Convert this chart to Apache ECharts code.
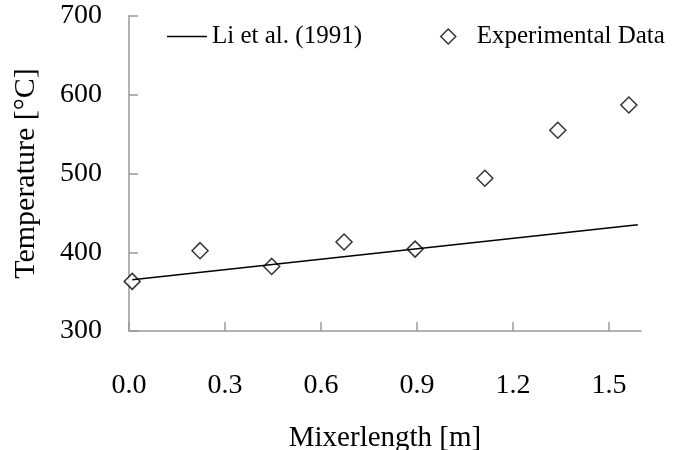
<!DOCTYPE html>
<html><head><meta charset="utf-8">
<script src="https://cdn.jsdelivr.net/npm/echarts@6/dist/echarts.min.js"></script>
<style>html,body{margin:0;padding:0;background:#fff}#c{width:675px;height:450px}</style>
</head><body><div id="c"></div>
<script>
const xTicks = [0, 0.3, 0.6, 0.9, 1.2, 1.5];
const expX = [0.01, 0.222, 0.446, 0.672, 0.894, 1.112, 1.34, 1.562];
const expY = [363, 402, 382, 413, 404, 494, 555, 587];
const liX = [0.01, 1.59];
const liY = [365, 435];

const font = 'Liberation Serif';
const chart = echarts.init(document.getElementById('c'));
chart.setOption({
  animation: false,
  backgroundColor: '#fff',
  textStyle: {fontFamily: font},
  grid: {left: 129, right: 34, top: 16, bottom: 119, containLabel: false, outerBoundsMode: 'none'},
  legend: [
    {
      top: 19, left: 162, itemWidth: 40, itemHeight: 1.5, icon: 'rect',
      textStyle: {fontFamily: font, fontSize: 25, color: '#000'},
      itemStyle: {color: '#000', borderWidth: 0},
      data: ['Li et al. (1991)']
    },
    {
      top: 19, left: 435, itemWidth: 15, itemHeight: 15, icon: 'diamond',
      textStyle: {fontFamily: font, fontSize: 25, color: '#000', padding: [0, 0, 0, 16]},
      itemStyle: {color: '#fff', borderColor: '#000', borderWidth: 1.5},
      data: ['Experimental Data']
    }
  ],
  xAxis: {
    type: 'value', min: 0, max: 1.6,
    name: 'Mixerlength [m]', nameLocation: 'middle', nameGap: 93,
    nameTextStyle: {fontFamily: font, fontSize: 29, color: '#000'},
    axisLine: {lineStyle: {color: '#999', width: 1.5}},
    axisTick: {inside: true, length: 9, lineStyle: {color: '#999', width: 1.5}, customValues: xTicks},
    axisLabel: {customValues: xTicks, margin: 41, fontSize: 28, color: '#000', fontFamily: font,
      formatter: v => v.toFixed(1)},
    splitLine: {show: false}
  },
  yAxis: {
    type: 'value', min: 300, max: 700, interval: 100,
    name: 'Temperature [°C]', nameLocation: 'middle', nameGap: 88,
    nameTextStyle: {fontFamily: font, fontSize: 30, color: '#000'},
    axisLine: {show: true, lineStyle: {color: '#999', width: 1.5}},
    axisTick: {show: true, inside: true, length: 9, lineStyle: {color: '#999', width: 1.5}},
    axisLabel: {margin: 27, fontSize: 28, color: '#000', fontFamily: font, padding: [6, 0, 0, 0]},
    splitLine: {show: false}
  },
  series: [
    {
      name: 'Li et al. (1991)', type: 'line', showSymbol: false, symbol: 'none',
      data: liX.map((x, i) => [x, liY[i]]),
      lineStyle: {color: '#000', width: 1.5}, itemStyle: {color: '#000'}
    },
    {
      name: 'Experimental Data', type: 'scatter', symbol: 'diamond', symbolSize: 16,
      data: expX.map((x, i) => [x, expY[i]]),
      itemStyle: {color: '#fff', borderColor: '#000', borderWidth: 1.5}
    }
  ]
});
</script></body></html>
